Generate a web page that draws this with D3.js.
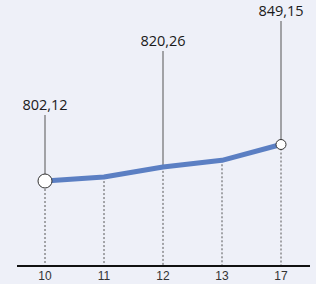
<!DOCTYPE html>
<html>
<head>
    <meta charset="utf-8">
    <title>Linienchart</title>
    <style>
        body{
            margin: 0;
            background: #eef0f8;
        }
        svg{
            display: block;
        }
    </style>
    <script src="https://d3js.org/d3.v7.min.js"></script>
</head>
<body>
    <svg width="316" height="284"></svg>

    <script>
        // Daten
        var jahre = ["10", "11", "12", "13", "17"];
        var werte = [802.12, 807.2, 820.26, 828.8, 849.15];
        var beschriftet = [true, false, true, false, true];
        var labelHoehe = [110, null, 46, null, 16]; // Grundlinie der Beschriftung
        var kreisRadius = [7, 0, 0, 0, 5];

        var svg = d3.select("svg");
        var achseY = 266;

        var x = d3.scalePoint()
            .domain(jahre)
            .range([45, 281]);

        var y = d3.scaleLinear()
            .domain([802.12, 849.15])
            .range([181, 144.5]);

        // senkrechte gestrichelte Linien
        svg.selectAll(".dash")
            .data(jahre)
            .enter().append("line")
            .attr("x1", d => x(d))
            .attr("x2", d => x(d))
            .attr("y1", (d, i) => y(werte[i]))
            .attr("y2", achseY)
            .attr("stroke", "#444")
            .attr("stroke-width", 0.9)
            .attr("stroke-dasharray", "2,2");

        // Führungslinien zu den Beschriftungen
        svg.selectAll(".leader")
            .data(jahre.filter((d, i) => beschriftet[i]))
            .enter().append("line")
            .attr("x1", d => x(d))
            .attr("x2", d => x(d))
            .attr("y1", d => labelHoehe[jahre.indexOf(d)] + 5)
            .attr("y2", d => y(werte[jahre.indexOf(d)]))
            .attr("stroke", "#555")
            .attr("stroke-width", 1);

        // Linie
        var linie = d3.line()
            .x((d, i) => x(jahre[i]))
            .y(d => y(d));

        svg.append("path")
            .datum(werte)
            .attr("fill", "none")
            .attr("stroke", "#5b7fc3")
            .attr("stroke-width", 5)
            .attr("stroke-linejoin", "round")
            .attr("d", linie);

        // Kreise
        svg.selectAll(".punkt")
            .data(jahre.filter((d, i) => kreisRadius[i] > 0))
            .enter().append("circle")
            .attr("cx", d => x(d))
            .attr("cy", d => y(werte[jahre.indexOf(d)]))
            .attr("r", d => kreisRadius[jahre.indexOf(d)])
            .attr("fill", "white")
            .attr("stroke", "#333")
            .attr("stroke-width", 1);

        // Wertbeschriftungen
        svg.selectAll(".wert")
            .data(jahre.filter((d, i) => beschriftet[i]))
            .enter().append("text")
            .attr("x", d => x(d))
            .attr("y", d => labelHoehe[jahre.indexOf(d)])
            .attr("text-anchor", "middle")
            .attr("font-family", "'Open Sans', sans-serif")
            .attr("font-size", "14.5px")
            .attr("fill", "#1a1a1a")
            .text(d => d3.format(".2f")(werte[jahre.indexOf(d)]).replace(".", ","));

        // x-Achse
        svg.append("line")
            .attr("x1", 17)
            .attr("x2", 310)
            .attr("y1", achseY)
            .attr("y2", achseY)
            .attr("stroke", "#111")
            .attr("stroke-width", 2);

        svg.selectAll(".tick")
            .data(jahre)
            .enter().append("text")
            .attr("x", d => x(d))
            .attr("y", 280)
            .attr("text-anchor", "middle")
            .attr("font-family", "'Liberation Sans Narrow', 'Arial Narrow', sans-serif")
            .attr("font-size", "12px")
            .attr("fill", "#333")
            .text(d => d);
    </script>
</body>
</html>
